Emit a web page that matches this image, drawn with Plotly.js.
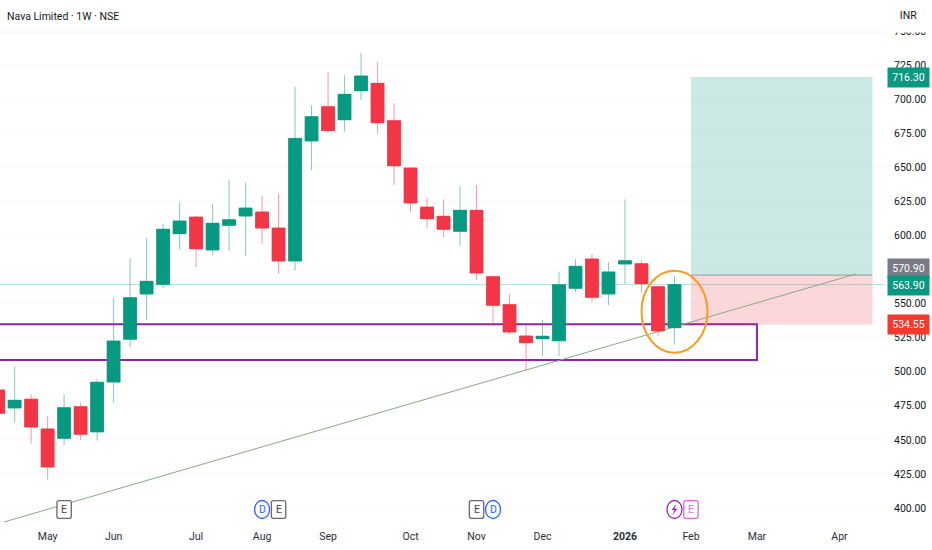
<!DOCTYPE html>
<html>
<head>
<meta charset="utf-8">
<script src="https://cdn.plot.ly/plotly-3.0.1.min.js"></script>
<style>html,body{margin:0;padding:0;background:#fff}#c{width:932px;height:550px}</style>
</head>
<body>
<div id="c"></div>
<script>
const weeks = ["2025-04-14","2025-04-21","2025-04-28","2025-05-05","2025-05-12","2025-05-19","2025-05-26","2025-06-02","2025-06-09","2025-06-16","2025-06-23","2025-06-30","2025-07-07","2025-07-14","2025-07-21","2025-07-28","2025-08-04","2025-08-11","2025-08-18","2025-08-25","2025-09-01","2025-09-08","2025-09-15","2025-09-22","2025-09-29","2025-10-06","2025-10-13","2025-10-20","2025-10-27","2025-11-03","2025-11-10","2025-11-17","2025-11-24","2025-12-01","2025-12-08","2025-12-15","2025-12-22","2025-12-29","2026-01-05","2026-01-12","2026-01-19","2026-01-26"];
const opens  = [486.6,473.4,479.8,458,451.1,474.3,455.8,492.4,523.8,557,564.1,601.3,613.5,589.3,607.4,614.2,617.2,605.4,581.2,669.3,694.4,684.9,706.2,711.6,684.2,649.5,620.8,614,603,618.4,569.7,549.2,526.2,524.2,522.7,561.2,582.7,557,579,579.2,562.4,532.3];
const highs  = [490.2,503.7,483.4,467.5,483.4,477.3,494.4,553.9,583.4,598.1,608.4,624.3,614.2,623,640.7,638.7,628.9,630.4,709.1,695.5,719.9,717.5,734,727.2,696.9,649.5,628,626.5,636.3,637,569.7,557,533.5,537.9,573.4,582.5,586.4,580.3,626.5,581.7,562.4,570.2];
const lows   = [464.6,462.6,447.2,420.8,446,449.9,449.4,477.3,517.9,537.9,561.4,589.8,576.6,585.6,588.8,584.9,593.9,571.9,574.1,648,675.4,676.1,699.6,674.6,637,617.2,605.2,598.8,592.2,567.3,533.8,527.7,501.3,511.5,511.5,558.5,551.4,548.9,564.3,558,526.4,519.8];
const closes = [469.5,479,459.4,430.1,473.6,454.1,492.2,522.5,554.3,566.3,604.5,610.6,590.2,608.9,611.5,620.1,605.4,581.2,671.2,687.1,677,703.5,717,682.7,651.1,623.8,612.3,604.5,618.4,572.4,548.7,529.1,521.3,526,563.8,577.3,554.6,573.2,581.4,564.6,529.9,563.9];

const monthTickDates = ["2025-05-05","2025-06-02","2025-07-07","2025-08-04","2025-09-01","2025-10-06","2025-11-03","2025-12-01","2026-01-05","2026-02-02","2026-03-02","2026-04-06"];
const monthTickLabels = ["May","Jun","Jul","Aug","Sep","Oct","Nov","Dec","<b>2026</b>","Feb","Mar","Apr"];
const priceTicks = [400,425,450,475,500,525,550,575,600,625,650,675,700,725,750];

const targetPrice = 716.30, entryPrice = 570.90, lastPrice = 563.90, stopPrice = 534.55;
const zoneTop = 534.9, zoneBottom = 508.6;

const UP = "#089981", DOWN = "#f23645", UPW = "rgba(8,153,129,0.5)", DOWNW = "rgba(242,54,69,0.5)";
const FONT = 'Roboto,"Noto Sans",sans-serif';
const INK = "#131722";

const wicks = {
  type:"candlestick", x:weeks, open:opens, high:highs, low:lows, close:closes,
  increasing:{line:{color:UPW,width:1},fillcolor:UP},
  decreasing:{line:{color:DOWNW,width:1},fillcolor:DOWN},
  showlegend:false, hoverinfo:"skip"
};
const bodies = {
  type:"candlestick", x:weeks, open:opens, close:closes,
  high:opens.map((o,i)=>Math.max(o,closes[i])),
  low:opens.map((o,i)=>Math.min(o,closes[i])),
  increasing:{line:{color:UP,width:0.5},fillcolor:UP},
  decreasing:{line:{color:DOWN,width:0.5},fillcolor:DOWN},
  showlegend:false, hoverinfo:"skip"
};

const Y0 = 0.0312; // badge row, fraction of plot height
function rr(w,h,r){return `M${-w+r},${-h} L${w-r},${-h} Q${w},${-h} ${w},${-h+r} L${w},${h-r} Q${w},${h} ${w-r},${h} L${-w+r},${h} Q${-w},${h} ${-w},${h-r} L${-w},${-h+r} Q${-w},${-h} ${-w+r},${-h} Z`;}
function boxBadge(d,col){return {type:"path",layer:"above",xref:"x",yref:"paper",xsizemode:"pixel",ysizemode:"pixel",xanchor:d,yanchor:Y0,path:rr(7.2,8.8,2),fillcolor:"#fff",line:{color:col,width:1.3}};}
function circBadge(d,col){return {type:"circle",layer:"above",xref:"x",yref:"paper",xsizemode:"pixel",ysizemode:"pixel",xanchor:d,yanchor:Y0,x0:-7.5,x1:7.5,y0:-9,y1:9,fillcolor:"#fff",line:{color:col,width:1.3}};}
function badgeText(d,t,col){return {xref:"x",yref:"paper",x:d,y:Y0,xanchor:"center",yanchor:"middle",text:t,showarrow:false,font:{family:FONT,size:10.5,color:col}};}
function priceTag(v,txt,bg,shift){return {xref:"paper",yref:"y",x:908.5/885,xanchor:"center",yanchor:"middle",y:v,yshift:shift,text:txt,showarrow:false,width:39,height:17,align:"center",valign:"middle",bgcolor:bg,font:{family:FONT,size:10.5,color:"#fff"}};}

const shapes = [
  {type:"rect",layer:"between",xref:"x",yref:"y",x0:"2026-02-02",x1:"2026-04-20",y0:entryPrice,y1:targetPrice,fillcolor:"rgba(8,153,129,0.21)",line:{width:0}},
  {type:"rect",layer:"between",xref:"x",yref:"y",x0:"2026-02-02",x1:"2026-04-20",y0:stopPrice,y1:entryPrice,fillcolor:"rgba(242,54,69,0.2)",line:{width:0}},
  {type:"line",layer:"between",xref:"x",yref:"y",x0:"2026-02-02",x1:"2026-04-20",y0:entryPrice,y1:entryPrice,line:{color:"#8f9a9a",width:1}},
  {type:"line",layer:"between",xref:"paper",yref:"y",x0:0,x1:1,y0:lastPrice,y1:lastPrice,line:{color:"rgba(8,153,129,0.3)",width:1}},
  {type:"rect",layer:"between",xref:"x",yref:"y",x0:"2025-03-01",x1:"2026-03-02",y0:zoneBottom,y1:zoneTop,line:{color:"#8e24aa",width:2},fillcolor:"rgba(0,0,0,0)"},
  {type:"line",layer:"between",xref:"x",yref:"y",x0:"2025-04-16 12:00",y0:389.7,x1:"2026-04-13",y1:571.7,line:{color:"#86ab86",width:1}},
  {type:"circle",layer:"above",xref:"x",yref:"y",x0:"2026-01-12",x1:"2026-02-09",y0:513.9,y1:574.1,line:{color:"#f59d1e",width:2},fillcolor:"rgba(0,0,0,0)"},
  {type:"line",layer:"between",xref:"paper",yref:"paper",x0:0,x1:1,y0:0.99,y1:0.99,line:{color:"#f3f3f3",width:1}},
  boxBadge("2025-05-12","#6a6a6a"),
  circBadge("2025-08-04","#2962ff"),
  boxBadge("2025-08-11","#6a6a6a"),
  boxBadge("2025-11-03","#6a6a6a"),
  circBadge("2025-11-10","#2962ff"),
  circBadge("2026-01-26","#9c27b0"),
  boxBadge("2026-02-02","#d86be8"),
  {type:"path",layer:"above",xref:"x",yref:"paper",xsizemode:"pixel",ysizemode:"pixel",xanchor:"2026-01-26",yanchor:Y0,path:"M2,5.5 L-3,-0.5 L0,-0.5 L-2,-5.5 L3,0.8 L0,0.8 Z",fillcolor:"#9c27b0",line:{width:0}}
];

const annotations = [
  {xref:"paper",yref:"paper",x:908.5/885,xanchor:"center",y:(525-15.5)/497,yanchor:"middle",width:47,height:31,bgcolor:"#fff",text:"INR",showarrow:false,font:{family:FONT,size:10.5,color:INK}},
  {xref:"paper",yref:"paper",x:7/885,xanchor:"left",y:(525-16)/497,yanchor:"middle",xshift:-2,text:"Nava Limited · 1W · NSE",showarrow:false,font:{family:FONT,size:10.5,color:INK}},
  priceTag(targetPrice,"716.30",UP,-1),
  priceTag(entryPrice,"570.90","#787b86",7),
  priceTag(lastPrice,"563.90",UP,-0.5),
  priceTag(stopPrice,"534.55","#f5392f",0),
  badgeText("2025-05-12","E","#444"),
  badgeText("2025-08-04","D","#2962ff"),
  badgeText("2025-08-11","E","#444"),
  badgeText("2025-11-03","E","#444"),
  badgeText("2025-11-10","D","#2962ff"),
  badgeText("2026-02-02","E","#d86be8")
];

const layout = {
  width:932,height:550,
  margin:{l:0,r:47,t:28,b:25,pad:0},
  paper_bgcolor:"#fff",plot_bgcolor:"#fff",
  showlegend:false,
  boxmode:"overlay",boxgap:0.22,boxgroupgap:0,
  font:{family:FONT,size:10.5,color:INK},
  xaxis:{type:"date",range:["2025-04-14 19:00","2026-04-25 08:00"],rangeslider:{visible:false},
    tickmode:"array",tickvals:monthTickDates,ticktext:monthTickLabels,
    showgrid:false,zeroline:false,showline:false,ticks:"",ticklabelstandoff:3,
    tickfont:{family:FONT,size:10.5,color:"#2a2e39"}},
  yaxis:{side:"right",range:[387.5,752.2],tickmode:"array",tickvals:priceTicks,
    ticktext:priceTicks.map(v=>v.toFixed(2)),
    gridcolor:"#f9f9f9",gridwidth:1,zeroline:false,showline:false,ticks:"",ticklabelstandoff:8,
    tickfont:{family:FONT,size:10.5,color:INK}},
  shapes,annotations
};
Plotly.newPlot("c",[wicks,bodies],layout,{staticPlot:true,displayModeBar:false});
</script>
</body>
</html>
